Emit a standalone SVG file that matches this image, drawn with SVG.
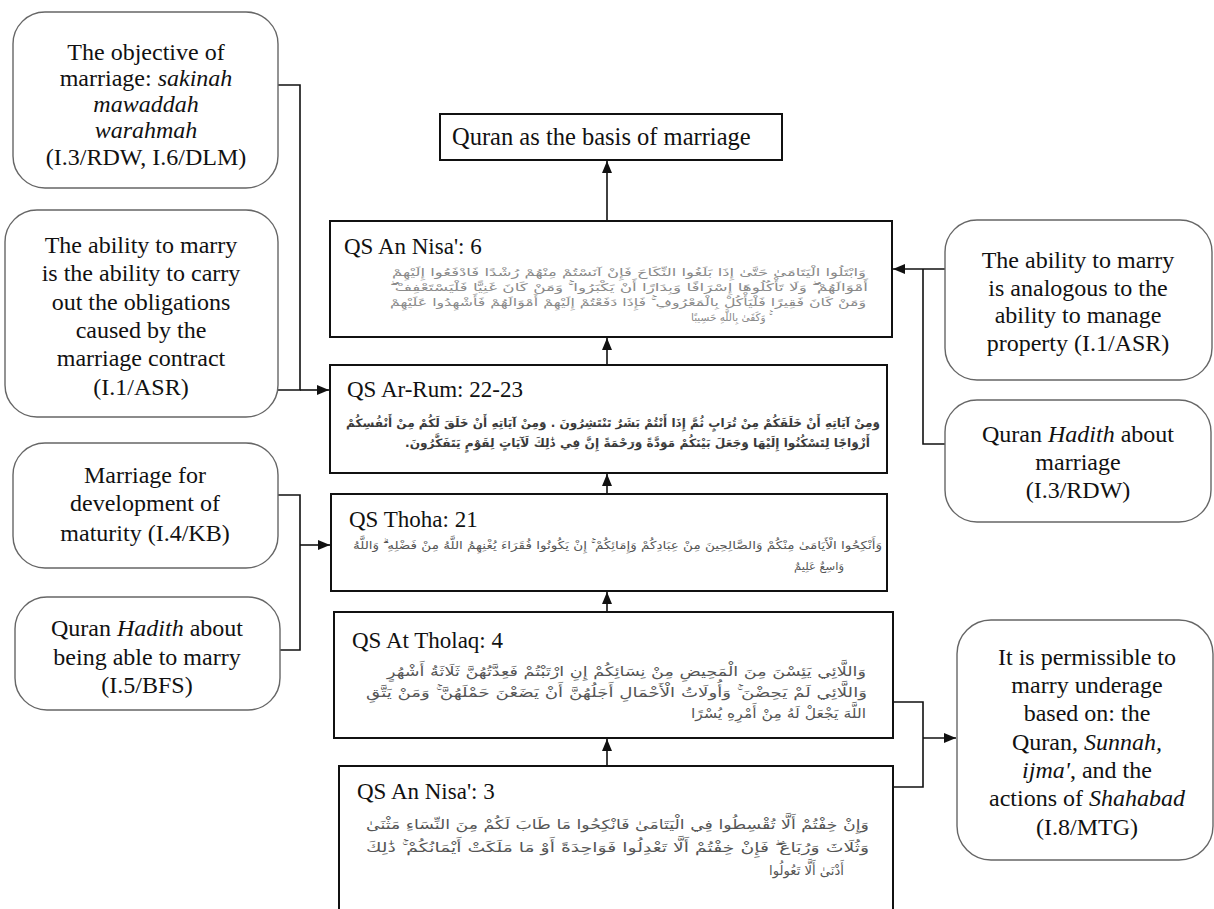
<svg xmlns="http://www.w3.org/2000/svg" width="1214" height="909" viewBox="0 0 1214 909">
<style>
.side{fill:#fff;stroke:#666;stroke-width:1.4}
.main{fill:#fff;stroke:#111;stroke-width:2}
.t{font-family:"Liberation Serif","Times New Roman",serif;font-size:24px;fill:#111;text-anchor:middle}
.ttl{font-family:"Liberation Serif","Times New Roman",serif;font-size:23px;fill:#111}
.i{font-style:italic}
.ar{font-family:"DejaVu Sans",sans-serif;direction:rtl;text-anchor:start}
.c{fill:none;stroke:#111;stroke-width:1.6}
</style>
<defs>
<marker id="ah" markerWidth="12" markerHeight="10" refX="12" refY="5" orient="auto" markerUnits="userSpaceOnUse">
<path d="M0,0 L12,5 L0,10 Z" fill="#111"/>
</marker>
</defs>
<rect width="1214" height="909" fill="#fff"/>

<g id="connectors">
<path class="c" d="M607,221 L607,161" marker-end="url(#ah)"/>
<path class="c" d="M607,365 L607,338" marker-end="url(#ah)"/>
<path class="c" d="M607,494 L607,474" marker-end="url(#ah)"/>
<path class="c" d="M607,612 L607,592" marker-end="url(#ah)"/>
<path class="c" d="M607,766 L607,739" marker-end="url(#ah)"/>
<path class="c" d="M278,85 L300,85 L300,390 L278,390"/>
<path class="c" d="M300,390 L329,390" marker-end="url(#ah)"/>
<path class="c" d="M278,495 L300,495 L300,650 L280,650"/>
<path class="c" d="M300,545 L330,545" marker-end="url(#ah)"/>
<path class="c" d="M945,269 L893,269" marker-end="url(#ah)"/>
<path class="c" d="M923,269 L923,444 L945,444"/>
<path class="c" d="M893,702 L923,702 L923,787 L893,787"/>
<path class="c" d="M923,738 L956,738" marker-end="url(#ah)"/>
</g>

<g id="n-top">
<rect class="main" x="440" y="114" width="342" height="46"/>
<text class="ttl" x="452" y="145" style="font-size:24.5px">Quran as the basis of marriage</text>
</g>

<g id="n-nisa6">
<rect class="main" x="330" y="221" width="562" height="116"/>
<text class="ttl" x="344" y="254">QS An Nisa': 6</text>
<g fill="#8a8a8a" font-size="10.5">
<text class="ar" x="866" y="276" textLength="474" lengthAdjust="spacingAndGlyphs">وَابْتَلُوا الْيَتَامَىٰ حَتَّىٰ إِذَا بَلَغُوا النِّكَاحَ فَإِنْ آنَسْتُمْ مِنْهُمْ رُشْدًا فَادْفَعُوا إِلَيْهِمْ</text>
<text class="ar" x="868" y="291" textLength="478" lengthAdjust="spacingAndGlyphs">أَمْوَالَهُمْ ۖ وَلَا تَأْكُلُوهَا إِسْرَافًا وَبِدَارًا أَنْ يَكْبَرُوا ۚ وَمَنْ كَانَ غَنِيًّا فَلْيَسْتَعْفِفْ ۖ</text>
<text class="ar" x="866" y="306" textLength="476" lengthAdjust="spacingAndGlyphs">وَمَنْ كَانَ فَقِيرًا فَلْيَأْكُلْ بِالْمَعْرُوفِ ۚ فَإِذَا دَفَعْتُمْ إِلَيْهِمْ أَمْوَالَهُمْ فَأَشْهِدُوا عَلَيْهِمْ</text>
<text class="ar" x="769" y="321" textLength="78" lengthAdjust="spacingAndGlyphs">ۚ وَكَفَىٰ بِاللَّهِ حَسِيبًا</text>
</g>
</g>

<g id="n-rum">
<rect class="main" x="330" y="365" width="557" height="108"/>
<text class="ttl" x="347" y="397">QS Ar-Rum: 22-23</text>
<g fill="#3a3a3a" font-size="11.5" font-weight="bold">
<text class="ar" x="880" y="427" textLength="534" lengthAdjust="spacingAndGlyphs">وَمِنْ آيَاتِهِ أَنْ خَلَقَكُمْ مِنْ تُرَابٍ ثُمَّ إِذَا أَنْتُمْ بَشَرٌ تَنْتَشِرُونَ . وَمِنْ آيَاتِهِ أَنْ خَلَقَ لَكُمْ مِنْ أَنْفُسِكُمْ</text>
<text class="ar" x="870" y="447" textLength="465" lengthAdjust="spacingAndGlyphs">أَزْوَاجًا لِتَسْكُنُوا إِلَيْهَا وَجَعَلَ بَيْنَكُمْ مَوَدَّةً وَرَحْمَةً إِنَّ فِي ذَٰلِكَ لَآيَاتٍ لِقَوْمٍ يَتَفَكَّرُونَ.</text>
</g>
</g>

<g id="n-thoha">
<rect class="main" x="331" y="494" width="556" height="97"/>
<text class="ttl" x="349" y="527">QS Thoha: 21</text>
<g fill="#555" font-size="11">
<text class="ar" x="882" y="549" textLength="529" lengthAdjust="spacingAndGlyphs">وَأَنْكِحُوا الْأَيَامَىٰ مِنْكُمْ وَالصَّالِحِينَ مِنْ عِبَادِكُمْ وَإِمَائِكُمْ ۚ إِنْ يَكُونُوا فُقَرَاءَ يُغْنِهِمُ اللَّهُ مِنْ فَضْلِهِ ۗ وَاللَّهُ</text>
<text class="ar" x="844" y="570" textLength="50" lengthAdjust="spacingAndGlyphs">وَاسِعٌ عَلِيمٌ</text>
</g>
</g>

<g id="n-tholaq">
<rect class="main" x="334" y="612" width="559" height="126"/>
<text class="ttl" x="352" y="648">QS At Tholaq: 4</text>
<g fill="#555" font-size="13">
<text class="ar" x="866" y="676" textLength="479" lengthAdjust="spacingAndGlyphs">وَاللَّائِي يَئِسْنَ مِنَ الْمَحِيضِ مِنْ نِسَائِكُمْ إِنِ ارْتَبْتُمْ فَعِدَّتُهُنَّ ثَلَاثَةُ أَشْهُرٍ</text>
<text class="ar" x="867" y="697" textLength="501" lengthAdjust="spacingAndGlyphs">وَاللَّائِي لَمْ يَحِضْنَ ۚ وَأُولَاتُ الْأَحْمَالِ أَجَلُهُنَّ أَنْ يَضَعْنَ حَمْلَهُنَّ ۚ وَمَنْ يَتَّقِ</text>
<text class="ar" x="866" y="718" textLength="175" lengthAdjust="spacingAndGlyphs">اللَّهَ يَجْعَلْ لَهُ مِنْ أَمْرِهِ يُسْرًا</text>
</g>
</g>

<g id="n-nisa3">
<rect class="main" x="339" y="766" width="554" height="160"/>
<text class="ttl" x="357" y="799">QS An Nisa': 3</text>
<g fill="#555" font-size="13">
<text class="ar" x="869" y="829" textLength="503" lengthAdjust="spacingAndGlyphs">وَإِنْ خِفْتُمْ أَلَّا تُقْسِطُوا فِي الْيَتَامَىٰ فَانْكِحُوا مَا طَابَ لَكُمْ مِنَ النِّسَاءِ مَثْنَىٰ</text>
<text class="ar" x="869" y="852" textLength="503" lengthAdjust="spacingAndGlyphs">وَثُلَاثَ وَرُبَاعَ ۖ فَإِنْ خِفْتُمْ أَلَّا تَعْدِلُوا فَوَاحِدَةً أَوْ مَا مَلَكَتْ أَيْمَانُكُمْ ۚ ذَٰلِكَ</text>
<text class="ar" x="844" y="875" textLength="75" lengthAdjust="spacingAndGlyphs">أَدْنَىٰ أَلَّا تَعُولُوا</text>
</g>
</g>

<g id="n-objective">
<rect class="side" x="13" y="12" width="265" height="176" rx="32"/>
<text class="t" x="146" y="60">The objective of</text>
<text class="t" x="146" y="86">marriage: <tspan class="i">sakinah</tspan></text>
<text class="t i" x="146" y="112">mawaddah</text>
<text class="t i" x="146" y="138">warahmah</text>
<text class="t" x="146" y="165">(I.3/RDW, I.6/DLM)</text>
</g>

<g id="n-ability-carry">
<rect class="side" x="5" y="210" width="273" height="207" rx="32"/>
<text class="t" x="141" y="253">The ability to marry</text>
<text class="t" x="141" y="281">is the ability to carry</text>
<text class="t" x="141" y="310">out the obligations</text>
<text class="t" x="141" y="338">caused by the</text>
<text class="t" x="141" y="366">marriage contract</text>
<text class="t" x="141" y="395">(I.1/ASR)</text>
</g>

<g id="n-maturity">
<rect class="side" x="13" y="443" width="265" height="125" rx="32"/>
<text class="t" x="145" y="483">Marriage for</text>
<text class="t" x="145" y="511">development of</text>
<text class="t" x="145" y="541">maturity (I.4/KB)</text>
</g>

<g id="n-hadith-able">
<rect class="side" x="15" y="597" width="265" height="113" rx="32"/>
<text class="t" x="147" y="636">Quran <tspan class="i">Hadith</tspan> about</text>
<text class="t" x="147" y="665">being able to marry</text>
<text class="t" x="147" y="693">(I.5/BFS)</text>
</g>

<g id="n-property">
<rect class="side" x="945" y="220" width="267" height="160" rx="32"/>
<text class="t" x="1078" y="268">The ability to marry</text>
<text class="t" x="1078" y="296">is analogous to the</text>
<text class="t" x="1078" y="323">ability to manage</text>
<text class="t" x="1078" y="351">property (I.1/ASR)</text>
</g>

<g id="n-hadith-marriage">
<rect class="side" x="945" y="400" width="266" height="122" rx="32"/>
<text class="t" x="1078" y="442">Quran <tspan class="i">Hadith</tspan> about</text>
<text class="t" x="1078" y="470">marriage</text>
<text class="t" x="1078" y="498">(I.3/RDW)</text>
</g>

<g id="n-underage">
<rect class="side" x="957" y="620" width="256" height="240" rx="34"/>
<text class="t" x="1087" y="665">It is permissible to</text>
<text class="t" x="1087" y="693">marry underage</text>
<text class="t" x="1087" y="721">based on: the</text>
<text class="t" x="1087" y="750">Quran, <tspan class="i">Sunnah,</tspan></text>
<text class="t" x="1087" y="778"><tspan class="i">ijma'</tspan>, and the</text>
<text class="t" x="1087" y="806">actions of <tspan class="i">Shahabad</tspan></text>
<text class="t" x="1087" y="835">(I.8/MTG)</text>
</g>
</svg>
